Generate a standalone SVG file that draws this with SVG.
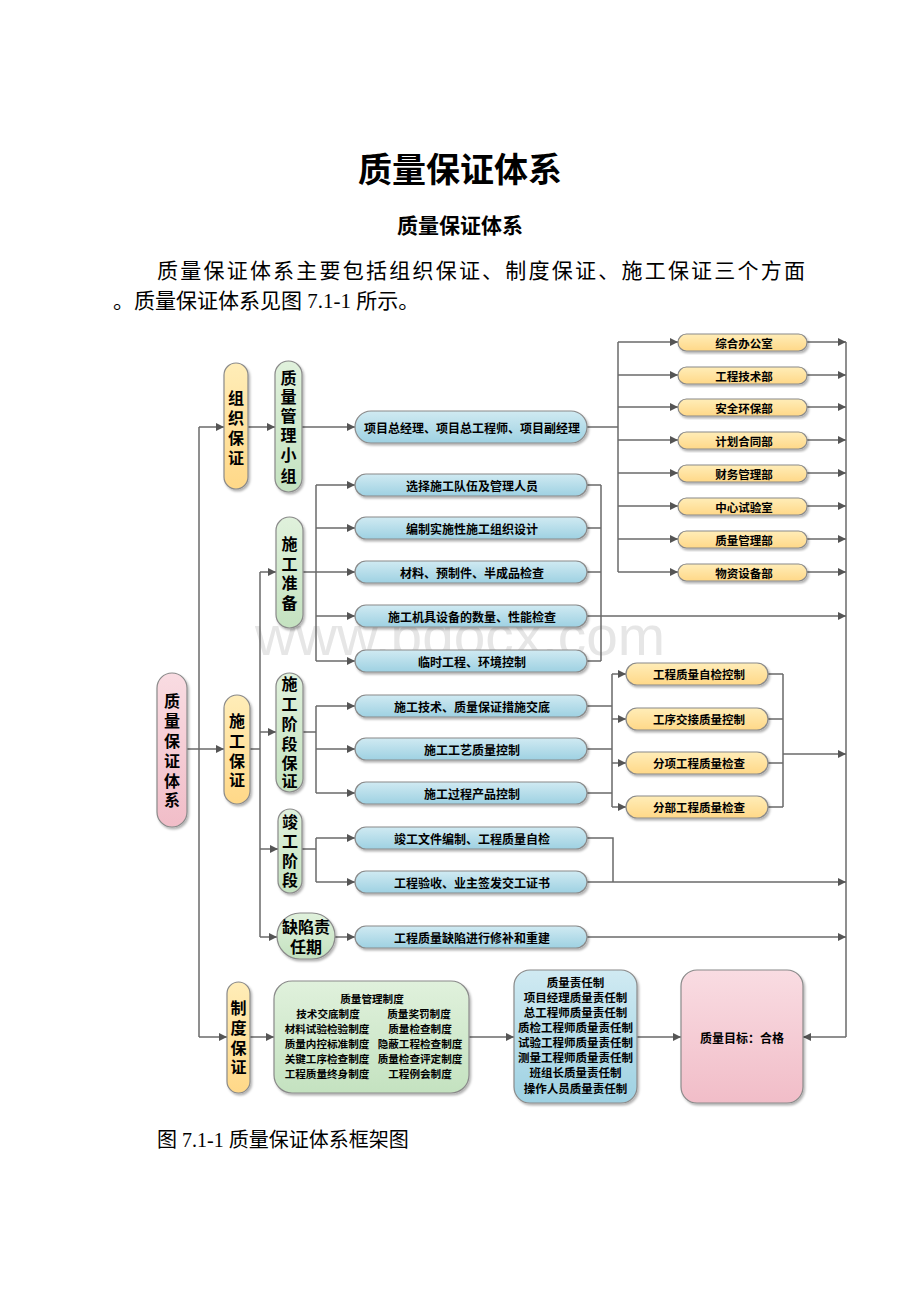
<svg xmlns="http://www.w3.org/2000/svg" width="920" height="1302" viewBox="0 0 920 1302">
<defs>
<linearGradient id="gY" x1="0" y1="0" x2="0" y2="1"><stop offset="0" stop-color="#FFEDB8"/><stop offset="1" stop-color="#FFD888"/></linearGradient>
<linearGradient id="gG" x1="0" y1="0" x2="0" y2="1"><stop offset="0" stop-color="#E0F1DC"/><stop offset="1" stop-color="#C4E2C0"/></linearGradient>
<linearGradient id="gB" x1="0" y1="0" x2="0" y2="1"><stop offset="0" stop-color="#D0EAF2"/><stop offset="1" stop-color="#9ED1E2"/></linearGradient>
<linearGradient id="gP" x1="0" y1="0" x2="0" y2="1"><stop offset="0" stop-color="#F9DCE2"/><stop offset="1" stop-color="#F1BDC8"/></linearGradient>
<filter id="sh" x="-20%" y="-20%" width="140%" height="140%"><feDropShadow dx="1.5" dy="2" stdDeviation="1.2" flood-color="#000" flood-opacity="0.3"/></filter>
<marker id="ar" viewBox="0 0 10 10" refX="10" refY="5" markerWidth="8" markerHeight="8" markerUnits="userSpaceOnUse" orient="auto"><path d="M0,0 L10,5 L0,10 z" fill="#555"/></marker>
</defs>
<style>
.y{fill:url(#gY);stroke:#8a8a8a;stroke-width:1.2;filter:url(#sh)}
.g{fill:url(#gG);stroke:#8a8a8a;stroke-width:1.2;filter:url(#sh)}
.b{fill:url(#gB);stroke:#8a8a8a;stroke-width:1.2;filter:url(#sh)}
.p{fill:url(#gP);stroke:#8a8a8a;stroke-width:1.2;filter:url(#sh)}
.t{font-family:"Noto Sans CJK SC",sans-serif;font-weight:bold;fill:#000;font-size:12px;text-anchor:middle;dominant-baseline:central}
.v{font-family:"Noto Sans CJK SC",sans-serif;font-weight:bold;fill:#000;font-size:16px;text-anchor:middle;dominant-baseline:central}
.s{font-family:"Noto Sans CJK SC",sans-serif;font-weight:bold;fill:#000;font-size:11.5px;text-anchor:middle;dominant-baseline:central}
.r{font-family:"Noto Sans CJK SC",sans-serif;font-weight:bold;fill:#000;font-size:10.6px;text-anchor:middle;dominant-baseline:central}
.doc{font-family:"Liberation Serif","Noto Sans CJK SC",serif;fill:#000}
.c{fill:none;stroke:#6a6a6a;stroke-width:1.5}
.ca{fill:none;stroke:#6a6a6a;stroke-width:1.5;marker-end:url(#ar)}
</style>
<rect width="920" height="1302" fill="#fff"/>
<text x="460" y="655" font-family="Liberation Sans, sans-serif" font-size="56" fill="#e6e6e6" text-anchor="middle" textLength="410" lengthAdjust="spacingAndGlyphs">www.bdocx.com</text>
<g id="doc-text">
<text class="doc" x="460" y="182" font-size="34" font-weight="bold" text-anchor="middle">质量保证体系</text>
<text class="doc" x="460" y="233" font-size="21" font-weight="bold" text-anchor="middle">质量保证体系</text>
<text class="doc" x="157" y="278" font-size="21" textLength="648" lengthAdjust="spacing">质量保证体系主要包括组织保证、制度保证、施工保证三个方面</text>
<text class="doc" x="113" y="308" font-size="21">。质量保证体系见图 7.1-1 所示。</text>
<text class="doc" x="157" y="1147" font-size="20">图 7.1-1 质量保证体系框架图</text>
</g>
<g id="connectors">
<path class="c" d="M199,427 V1037"/>
<path class="ca" d="M199,427 H224"/>
<path class="ca" d="M199,1037 H227"/>
<path class="ca" d="M187,749 H224"/>
<path class="ca" d="M248,427 H275"/>
<path class="ca" d="M302,427 H355"/>
<path class="c" d="M587,427 H618"/>
<path class="c" d="M618,342 V572"/>
<path class="ca" d="M618,342 H678"/><path class="ca" d="M618,375 H678"/><path class="ca" d="M618,407 H678"/><path class="ca" d="M618,440 H678"/>
<path class="ca" d="M618,473 H678"/><path class="ca" d="M618,506 H678"/><path class="ca" d="M618,539 H678"/><path class="ca" d="M618,572 H678"/>
<path class="ca" d="M807,342 H846"/><path class="ca" d="M807,375 H846"/><path class="ca" d="M807,407 H846"/><path class="ca" d="M807,440 H846"/>
<path class="ca" d="M807,473 H846"/><path class="ca" d="M807,506 H846"/><path class="ca" d="M807,539 H846"/><path class="ca" d="M807,572 H846"/>
<path class="c" d="M846,342 V1037"/>
<path class="ca" d="M846,1037 H803"/>
<path class="c" d="M250,749 H260"/>
<path class="c" d="M260,572 V937"/>
<path class="ca" d="M260,572 H276"/>
<path class="ca" d="M260,732 H276"/>
<path class="ca" d="M260,849 H278"/>
<path class="ca" d="M260,937 H277"/>
<path class="c" d="M303,572 H316"/>
<path class="c" d="M316,485 V661"/>
<path class="ca" d="M316,485 H355"/><path class="ca" d="M316,528 H355"/><path class="ca" d="M316,572 H355"/><path class="ca" d="M316,616 H355"/><path class="ca" d="M316,661 H355"/>
<path class="c" d="M587,485 H601 M587,528 H601 M587,572 H601 M587,661 H601 M601,485 V661"/>
<path class="ca" d="M587,616 H846"/>
<path class="c" d="M303,732 H316"/>
<path class="c" d="M316,706 V793"/>
<path class="ca" d="M316,706 H355"/><path class="ca" d="M316,749 H355"/><path class="ca" d="M316,793 H355"/>
<path class="c" d="M587,706 H612 M587,749 H612 M587,793 H612 M612,674 V807"/>
<path class="ca" d="M612,674 H626"/><path class="ca" d="M612,719 H626"/><path class="ca" d="M612,763 H626"/><path class="ca" d="M612,807 H626"/>
<path class="c" d="M768,674 H783 M768,719 H783 M768,763 H783 M768,807 H783 M783,674 V807"/>
<path class="ca" d="M783,754 H846"/>
<path class="c" d="M302,849 H316"/>
<path class="c" d="M316,838 V882"/>
<path class="ca" d="M316,838 H355"/><path class="ca" d="M316,882 H355"/>
<path class="c" d="M587,838 H613 V882"/>
<path class="ca" d="M587,882 H846"/>
<path class="ca" d="M335,937 H355"/>
<path class="ca" d="M587,937 H846"/>
<path class="ca" d="M250,1037 H274"/>
<path class="ca" d="M469,1037 H514"/>
<path class="ca" d="M637,1037 H681"/>
</g>
<g id="n-root"><rect class="p" x="157" y="673" width="30" height="154" rx="15"/>
<text class="v"><tspan x="172" y="700">质</tspan><tspan x="172" y="720">量</tspan><tspan x="172" y="740">保</tspan><tspan x="172" y="760">证</tspan><tspan x="172" y="780">体</tspan><tspan x="172" y="799">系</tspan></text></g>
<g id="n-zuzhi"><rect class="y" x="224" y="363" width="24" height="126" rx="12"/>
<text class="v"><tspan x="236" y="397">组</tspan><tspan x="236" y="417">织</tspan><tspan x="236" y="437">保</tspan><tspan x="236" y="457">证</tspan></text></g>
<g id="n-shigong"><rect class="y" x="224" y="695" width="26" height="109" rx="13"/>
<text class="v"><tspan x="237" y="720">施</tspan><tspan x="237" y="740">工</tspan><tspan x="237" y="760">保</tspan><tspan x="237" y="779">证</tspan></text></g>
<g id="n-zhidu"><rect class="y" x="227" y="982" width="23" height="111" rx="11.5"/>
<text class="v"><tspan x="238.5" y="1007">制</tspan><tspan x="238.5" y="1027">度</tspan><tspan x="238.5" y="1047">保</tspan><tspan x="238.5" y="1066">证</tspan></text></g>
<g id="n-group"><rect class="g" x="275" y="361" width="27" height="131" rx="13.5"/>
<text class="v"><tspan x="288.5" y="377">质</tspan><tspan x="288.5" y="396">量</tspan><tspan x="288.5" y="415">管</tspan><tspan x="288.5" y="434">理</tspan><tspan x="288.5" y="454">小</tspan><tspan x="288.5" y="475">组</tspan></text></g>
<g id="n-prep"><rect class="g" x="276" y="517" width="27" height="111" rx="13.5"/>
<text class="v"><tspan x="289.5" y="543">施</tspan><tspan x="289.5" y="563">工</tspan><tspan x="289.5" y="582">准</tspan><tspan x="289.5" y="602">备</tspan></text></g>
<g id="n-stage"><rect class="g" x="276" y="673" width="27" height="119" rx="13.5"/>
<text class="v"><tspan x="289.5" y="683">施</tspan><tspan x="289.5" y="703">工</tspan><tspan x="289.5" y="723">阶</tspan><tspan x="289.5" y="743">段</tspan><tspan x="289.5" y="762">保</tspan><tspan x="289.5" y="780">证</tspan></text></g>
<g id="n-done"><rect class="g" x="278" y="809" width="24" height="84" rx="12"/>
<text class="v"><tspan x="290" y="821">竣</tspan><tspan x="290" y="840">工</tspan><tspan x="290" y="860">阶</tspan><tspan x="290" y="879">段</tspan></text></g>
<g id="n-defect"><rect class="g" x="277" y="913" width="58" height="46" rx="23"/>
<text class="v"><tspan x="306" y="926">缺陷责</tspan><tspan x="306" y="946">任期</tspan></text></g>
<g id="n-mgr"><rect class="b" x="355" y="411" width="232" height="32" rx="16"/><text class="t" x="472" y="427">项目总经理、项目总工程师、项目副经理</text></g>
<g id="n-d1"><rect class="y" x="678" y="334" width="129" height="17" rx="8.5"/><text class="s" x="744" y="342.5">综合办公室</text></g>
<g id="n-d2"><rect class="y" x="678" y="367" width="129" height="17" rx="8.5"/><text class="s" x="744" y="375.5">工程技术部</text></g>
<g id="n-d3"><rect class="y" x="678" y="399" width="129" height="17" rx="8.5"/><text class="s" x="744" y="407.5">安全环保部</text></g>
<g id="n-d4"><rect class="y" x="678" y="432" width="129" height="17" rx="8.5"/><text class="s" x="744" y="440.5">计划合同部</text></g>
<g id="n-d5"><rect class="y" x="678" y="465" width="129" height="17" rx="8.5"/><text class="s" x="744" y="473.5">财务管理部</text></g>
<g id="n-d6"><rect class="y" x="678" y="498" width="129" height="17" rx="8.5"/><text class="s" x="744" y="506.5">中心试验室</text></g>
<g id="n-d7"><rect class="y" x="678" y="531" width="129" height="17" rx="8.5"/><text class="s" x="744" y="539.5">质量管理部</text></g>
<g id="n-d8"><rect class="y" x="678" y="564" width="129" height="17" rx="8.5"/><text class="s" x="744" y="572.5">物资设备部</text></g>
<g id="n-p1"><rect class="b" x="355" y="474" width="232" height="22" rx="11"/><text class="t" x="472" y="485">选择施工队伍及管理人员</text></g>
<g id="n-p2"><rect class="b" x="355" y="517" width="232" height="22" rx="11"/><text class="t" x="472" y="528">编制实施性施工组织设计</text></g>
<g id="n-p3"><rect class="b" x="355" y="561" width="232" height="22" rx="11"/><text class="t" x="472" y="572">材料、预制件、半成品检查</text></g>
<g id="n-p4"><rect class="b" x="355" y="605" width="232" height="22" rx="11"/><text class="t" x="472" y="616">施工机具设备的数量、性能检查</text></g>
<g id="n-p5"><rect class="b" x="355" y="650" width="232" height="22" rx="11"/><text class="t" x="472" y="661">临时工程、环境控制</text></g>
<g id="n-s1"><rect class="b" x="355" y="695" width="232" height="22" rx="11"/><text class="t" x="472" y="706">施工技术、质量保证措施交底</text></g>
<g id="n-s2"><rect class="b" x="355" y="738" width="232" height="22" rx="11"/><text class="t" x="472" y="749">施工工艺质量控制</text></g>
<g id="n-s3"><rect class="b" x="355" y="782" width="232" height="22" rx="11"/><text class="t" x="472" y="793">施工过程产品控制</text></g>
<g id="n-c1"><rect class="y" x="626" y="663" width="142" height="22" rx="11"/><text class="s" x="699" y="674">工程质量自检控制</text></g>
<g id="n-c2"><rect class="y" x="626" y="708" width="142" height="22" rx="11"/><text class="s" x="699" y="719">工序交接质量控制</text></g>
<g id="n-c3"><rect class="y" x="626" y="752" width="142" height="22" rx="11"/><text class="s" x="699" y="763">分项工程质量检查</text></g>
<g id="n-c4"><rect class="y" x="626" y="796" width="142" height="22" rx="11"/><text class="s" x="699" y="807">分部工程质量检查</text></g>
<g id="n-f1"><rect class="b" x="355" y="827" width="232" height="22" rx="11"/><text class="t" x="472" y="838">竣工文件编制、工程质量自检</text></g>
<g id="n-f2"><rect class="b" x="355" y="871" width="232" height="22" rx="11"/><text class="t" x="472" y="882">工程验收、业主签发交工证书</text></g>
<g id="n-r1"><rect class="b" x="355" y="926" width="232" height="22" rx="11"/><text class="t" x="472" y="937">工程质量缺陷进行修补和重建</text></g>
<g id="n-rules"><rect class="g" x="274" y="981" width="195" height="112" rx="18"/>
<text class="r" x="372" y="998">质量管理制度</text>
<text class="r" x="328" y="1013">技术交底制度</text><text class="r" x="419" y="1013">质量奖罚制度</text>
<text class="r" x="327" y="1028">材料试验检验制度</text><text class="r" x="420" y="1028">质量检查制度</text>
<text class="r" x="327" y="1043">质量内控标准制度</text><text class="r" x="420" y="1043">隐蔽工程检查制度</text>
<text class="r" x="327" y="1058">关键工序检查制度</text><text class="r" x="420" y="1058">质量检查评定制度</text>
<text class="r" x="327" y="1073">工程质量终身制度</text><text class="r" x="420" y="1073">工程例会制度</text></g>
<g id="n-resp"><rect class="b" x="514" y="970" width="123" height="133" rx="16"/>
<text class="s" font-size="11" x="575.5" y="982">质量责任制</text>
<text class="s" font-size="11" x="575.5" y="997">项目经理质量责任制</text>
<text class="s" font-size="11" x="575.5" y="1012">总工程师质量责任制</text>
<text class="s" font-size="11" x="575.5" y="1027">质检工程师质量责任制</text>
<text class="s" font-size="11" x="575.5" y="1042">试验工程师质量责任制</text>
<text class="s" font-size="11" x="575.5" y="1057">测量工程师质量责任制</text>
<text class="s" font-size="11" x="575.5" y="1072">班组长质量责任制</text>
<text class="s" font-size="11" x="575.5" y="1088">操作人员质量责任制</text></g>
<g id="n-goal"><rect class="p" x="681" y="970" width="122" height="133" rx="16"/><text class="t" font-size="14.5" x="742" y="1037">质量目标：合格</text></g>
</svg>
